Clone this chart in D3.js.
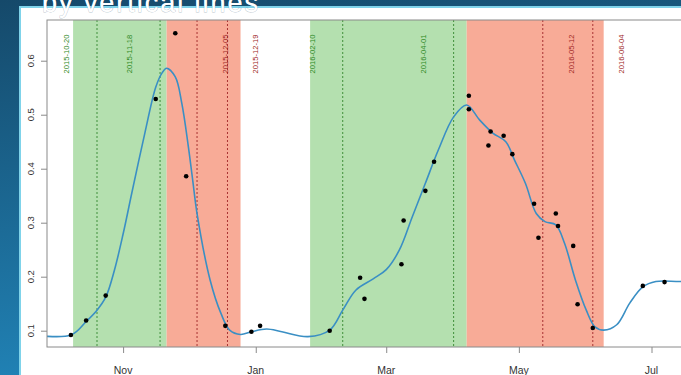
<!DOCTYPE html>
<html>
<head>
<meta charset="utf-8">
<script src="https://cdn.jsdelivr.net/npm/d3@7"></script>
<style>
  html, body { margin: 0; padding: 0; background: #1b5f85; }
  svg { display: block; }
</style>
</head>
<body>
<svg id="chart" width="681" height="375"></svg>
<script>
// Observed values
const pointDates = ["2015-10-08","2015-10-15","2015-10-24","2015-11-16","2015-11-25","2015-11-30",
  "2015-12-18","2015-12-30","2016-01-03","2016-02-04","2016-02-18","2016-02-20","2016-03-08",
  "2016-03-09","2016-03-19","2016-03-23","2016-04-08","2016-04-08","2016-04-18","2016-04-17",
  "2016-04-24","2016-04-28","2016-05-08","2016-05-10","2016-05-18","2016-05-19","2016-05-26",
  "2016-05-28","2016-06-04","2016-06-27","2016-07-07"];
const pointValues = [0.092,0.119,0.165,0.529,0.651,0.386,
  0.109,0.098,0.109,0.100,0.198,0.159,0.223,
  0.304,0.359,0.413,0.535,0.510,0.469,0.443,
  0.461,0.427,0.335,0.272,0.317,0.294,0.257,
  0.149,0.105,0.183,0.190];

// Smoothed trend
const fitDates = ["2015-09-20","2015-10-08","2015-10-15","2015-10-20","2015-10-24","2015-10-28",
  "2015-11-01","2015-11-05","2015-11-11","2015-11-16","2015-11-19","2015-11-21","2015-11-25",
  "2015-11-28","2015-12-01","2015-12-03","2015-12-05","2015-12-11","2015-12-16","2015-12-20",
  "2015-12-25","2015-12-30","2016-01-06","2016-01-13","2016-01-25","2016-02-04","2016-02-10",
  "2016-02-16","2016-02-24","2016-03-01","2016-03-07","2016-03-13","2016-03-19","2016-03-25",
  "2016-04-01","2016-04-07","2016-04-13","2016-04-19","2016-04-25","2016-04-29","2016-05-04",
  "2016-05-09","2016-05-13","2016-05-18","2016-05-22","2016-05-27","2016-06-01","2016-06-05",
  "2016-06-09","2016-06-15","2016-06-21","2016-06-27","2016-07-03","2016-07-14","2016-07-30"];
const fitValues = [0.092,0.092,0.117,0.138,0.162,0.212,
  0.279,0.355,0.466,0.551,0.578,0.586,0.570,
  0.521,0.441,0.379,0.317,0.194,0.132,0.101,
  0.093,0.098,0.103,0.098,0.089,0.101,0.138,
  0.175,0.196,0.213,0.249,0.311,0.373,0.435,
  0.496,0.518,0.490,0.466,0.450,0.416,0.373,
  0.317,0.302,0.296,0.262,0.194,0.138,0.107,
  0.101,0.111,0.151,0.181,0.191,0.191,0.191];

// Rising / falling periods
const bandStarts = ["2015-10-09","2015-11-21","2016-01-26","2016-04-07"];
const bandEnds   = ["2015-11-21","2015-12-25","2016-04-07","2016-06-09"];
const bandKinds  = ["up","down","up","down"];

// Marked dates
const markerDates = ["2015-10-20","2015-11-18","2015-12-05","2015-12-19",
  "2016-02-10","2016-04-01","2016-05-12","2016-06-04"];
const markerKinds = ["up","up","down","down","up","up","down","down"];

// Axis ticks
const xTickDates  = ["2015-11-01","2016-01-01","2016-03-01","2016-05-01","2016-07-01"];
const xTickLabels = ["Nov","Jan","Mar","May","Jul"];
const yTicks = [0.1,0.2,0.3,0.4,0.5,0.6];

const parse = d3.utcParse("%Y-%m-%d");
const svg = d3.select("#chart");
const W = 681, H = 375;

// Page background
const defs = svg.append("defs");
const grad = defs.append("linearGradient").attr("id","bg")
  .attr("x1","0").attr("y1","0").attr("x2","0.25").attr("y2","1");
grad.append("stop").attr("offset","0").attr("stop-color","#15496a");
grad.append("stop").attr("offset","1").attr("stop-color","#2184b8");
svg.append("rect").attr("width",W).attr("height",H).attr("fill","url(#bg)");

svg.append("text")
  .attr("x",42).attr("y",12)
  .attr("font-family","Liberation Sans, Arial, sans-serif")
  .attr("font-size",27)
  .attr("fill","#ffffff")
  .attr("textLength",216)
  .text("by vertical lines");

// White panel
svg.append("rect").attr("x",19).attr("y",6).attr("width",W).attr("height",H)
  .attr("fill","#7fd3ea");
svg.append("rect").attr("x",21).attr("y",8).attr("width",W).attr("height",H)
  .attr("fill","#ffffff");

svg.append("text")
  .attr("x",42).attr("y",12)
  .attr("font-family","Liberation Sans, Arial, sans-serif")
  .attr("font-size",27)
  .attr("fill","#ffffff")
  .attr("stroke","rgba(40,80,110,0.35)")
  .attr("stroke-width",0.8)
  .attr("paint-order","stroke")
  .attr("textLength",216)
  .text("by vertical lines");

// Plot region
const pLeft = 47, pTop = 20, pBottom = 347, pRight = 699.35;
const x = d3.scaleUtc()
  .domain([parse("2015-09-27"), parse("2016-07-23")])
  .range([pLeft, pRight]);
const y = d3.scaleLinear()
  .domain([0.0698, 0.6754])
  .range([pBottom, pTop]);

defs.append("clipPath").attr("id","plotclip")
  .append("rect").attr("x",pLeft).attr("y",pTop)
  .attr("width",pRight-pLeft).attr("height",pBottom-pTop);

const plot = svg.append("g").attr("clip-path","url(#plotclip)");

const bandFill = {up:"#b4e0af", down:"#f8ab97"};
plot.selectAll("rect.band")
  .data(bandStarts.map((s,i) => ({s:parse(s), e:parse(bandEnds[i]), k:bandKinds[i]})))
  .join("rect").attr("class","band")
  .attr("x", d => x(d.s)).attr("width", d => x(d.e) - x(d.s))
  .attr("y", pTop).attr("height", pBottom - pTop)
  .attr("fill", d => bandFill[d.k]);

const lineColor = {up:"#3f8f3a", down:"#a83232"};
const textColor = {up:"#2f8a25", down:"#a02626"};
const markers = markerDates.map((d,i) => ({d:parse(d), k:markerKinds[i], label:d}));
plot.selectAll("line.marker").data(markers).join("line")
  .attr("class","marker")
  .attr("x1", d => x(d.d)).attr("x2", d => x(d.d))
  .attr("y1", pTop).attr("y2", pBottom)
  .attr("stroke", d => lineColor[d.k])
  .attr("stroke-width", 1)
  .attr("stroke-dasharray","2,2");

// Labels sit beside their line: before rises, after falls
const DAY = 864e5;
plot.selectAll("text.marker").data(markers).join("text")
  .attr("class","marker")
  .attr("transform", d => {
    const off = d.k === "up" ? -14 : 13;
    return `translate(${x(new Date(+d.d + off*DAY))},54) rotate(-90)`;
  })
  .attr("text-anchor","middle")
  .attr("dominant-baseline","central")
  .attr("font-family","Liberation Sans, Arial, sans-serif")
  .attr("font-size",7.6)
  .attr("fill", d => textColor[d.k])
  .text(d => d.label);

// Trend line
const fit = fitDates.map((d,i) => [parse(d), fitValues[i]]);
plot.append("path")
  .datum(fit)
  .attr("fill","none")
  .attr("stroke","#3a8fc4")
  .attr("stroke-width",1.6)
  .attr("d", d3.line().x(d => x(d[0])).y(d => y(d[1])).curve(d3.curveCatmullRom.alpha(0.5)));

// Observations
plot.selectAll("circle.pt")
  .data(pointDates.map((d,i) => [parse(d), pointValues[i]]))
  .join("circle").attr("class","pt")
  .attr("cx", d => x(d[0])).attr("cy", d => y(d[1]))
  .attr("r", 2.3).attr("fill","#000");

// Frame
svg.append("rect").attr("x",pLeft).attr("y",pTop)
  .attr("width",pRight-pLeft).attr("height",pBottom-pTop)
  .attr("fill","none").attr("stroke","#8a8a8a").attr("stroke-width",1);

// Axes
const axisFont = "Liberation Sans, Arial, sans-serif";
const xAxis = svg.append("g").attr("transform",`translate(0,${pBottom})`)
  .call(d3.axisBottom(x).tickValues(xTickDates.map(parse)).tickSize(6).tickFormat(""));
xAxis.select(".domain").remove();
xAxis.selectAll(".tick line").attr("stroke","#8a8a8a");
svg.selectAll("text.xlab").data(xTickDates.map((d,i)=>({d:parse(d), t:xTickLabels[i]})))
  .join("text").attr("class","xlab")
  .attr("x", d => x(d.d)).attr("y", 374)
  .attr("text-anchor","middle")
  .attr("font-family",axisFont).attr("font-size",10.5)
  .attr("fill","#333")
  .text(d => d.t);

const yAxis = svg.append("g").attr("transform",`translate(${pLeft},0)`)
  .call(d3.axisLeft(y).tickValues(yTicks).tickSize(6).tickFormat(""));
yAxis.select(".domain").remove();
yAxis.selectAll(".tick line").attr("stroke","#8a8a8a");
svg.selectAll("text.ylab").data(yTicks).join("text").attr("class","ylab")
  .attr("transform", d => `translate(30,${y(d)}) rotate(-90)`)
  .attr("text-anchor","middle")
  .attr("dominant-baseline","central")
  .attr("font-family",axisFont).attr("font-size",9.5)
  .attr("fill","#333")
  .text(d => d3.format(".1f")(d));
</script>
</body>
</html>
